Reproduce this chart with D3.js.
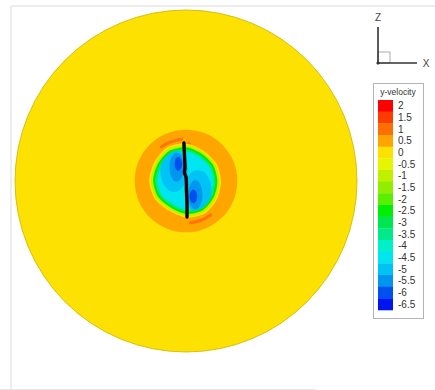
<!DOCTYPE html>
<html lang="en">
<head>
<meta charset="UTF-8">
<title>y-velocity contour</title>
<style>
  body { margin: 0; background: #fff; }
  svg { display: block; font-family: "Liberation Sans", Arial, sans-serif; }
</style>
</head>
<body>
<svg id="chart"></svg>
<script src="https://d3js.org/d3.v7.min.js"></script>
<script>
// contour levels of the legend and their colours
var levels = [2, 1.5, 1, 0.5, 0, -0.5, -1, -1.5, -2, -2.5, -3, -3.5, -4, -4.5, -5, -5.5, -6, -6.5]
var levelColors = ['#ff0000', '#ff3c00', '#ff6e00', '#ffa500', '#fde100', '#e6f500', '#bef000', '#90ee00',
    '#5aee00', '#00ee00', '#00e650', '#00ea8c', '#00f0c8', '#00e6f0', '#00c3f5', '#0096f0', '#0050f0', '#0014f0']

// field, in model units (disc radius = 100)
var discRadius = 100, discValue = 0
var ringRadius = 30, ringValue = 0.5
// outline of the inner vortex region, radius every 30 degrees (from +x, counter-clockwise)
var coreAngles = [0, 30, 60, 90, 120, 150, 180, 210, 240, 270, 300, 330]
var coreRadii = [20.5, 20.5, 20.5, 22, 22.5, 21.5, 21.5, 21, 20, 21.5, 22, 21]
// bands inside the core: value and relative size
var coreValues = [0, -1, -2.5, -3.5, -4.5]
var coreScales = [1, 0.955, 0.895, 0.835, 0.775]
// blobs inside the core: [x, z, rx, rz, value]
var blobs = [
    [-7, 6, 8, 12.5, -5], [7, -6, 8, 12.5, -5],
    [-5.5, 8, 4.2, 8.5, -5.5], [5.5, -8, 4.2, 8.5, -5.5],
    [-4.5, 10, 2.2, 4, -6], [4.3, -9, 2.2, 4, -6]
]
// thin high-velocity arcs on the ring: [start, end angle, inner r, outer r, value]
var arcs = [[94, 128, 23.6, 25.5, 1], [274, 308, 23.6, 25.5, 1]]
var spots = [[1.5, 20.8, 1.4, 1.8, 1], [-3.5, -19, 1.2, 1.8, 1]]
// crack line
var crack = [[-1.2, 22.2], [-0.9, 15.2], [-0.6, 7.6], [-0.9, 4.8], [0, 2.3], [0.3, -5.3], [0.6, -14], [0.6, -21.1]]

var W = 435, H = 390
var svg = d3.select('#chart').attr('width', W).attr('height', H)

var color = d3.scaleOrdinal().domain(levels).range(levelColors)
var x = d3.scaleLinear().domain([-discRadius, discRadius]).range([15, 357])
var z = d3.scaleLinear().domain([-discRadius, discRadius]).range([352, 10])
var len = function (v) { return x(v) - x(0) }

// frame
svg.append('path').attr('d', 'M11,390V6H435').attr('fill', 'none').attr('stroke', '#dcdcdc')
svg.append('line').attr('x1', 0).attr('x2', 316).attr('y1', 389.5).attr('y2', 389.5).attr('stroke', '#e8e8e8')

var g = svg.append('g')

g.append('circle').attr('cx', x(0)).attr('cy', z(0)).attr('r', len(discRadius))
    .attr('fill', color(discValue)).attr('stroke', '#c9b400').attr('stroke-width', 0.8)
g.append('circle').attr('cx', x(0)).attr('cy', z(0)).attr('r', len(ringRadius))
    .attr('fill', color(ringValue))

var arcGen = d3.arc().cornerRadius(1.5)
g.selectAll('.arc').data(arcs).enter().append('path')
    .attr('transform', 'translate(' + x(0) + ',' + z(0) + ')')
    .attr('d', function (d) {
        return arcGen({
            startAngle: (90 - d[1]) * Math.PI / 180, endAngle: (90 - d[0]) * Math.PI / 180,
            innerRadius: len(d[2]), outerRadius: len(d[3])
        })
    })
    .attr('fill', function (d) { return color(d[4]) })
    .attr('opacity', 0.9)

g.selectAll('.spot').data(spots).enter().append('ellipse')
    .attr('cx', function (d) { return x(d[0]) }).attr('cy', function (d) { return z(d[1]) })
    .attr('rx', function (d) { return len(d[2]) }).attr('ry', function (d) { return len(d[3]) })
    .attr('fill', function (d) { return color(d[4]) })

var shape = d3.line().curve(d3.curveCardinalClosed.tension(0.2))
function corePoints(s) {
    return coreAngles.map(function (a, i) {
        var t = a * Math.PI / 180
        return [x(coreRadii[i] * s * Math.cos(t)), z(coreRadii[i] * s * Math.sin(t))]
    })
}

g.selectAll('.band').data(coreValues).enter().append('path')
    .attr('d', function (d, i) { return shape(corePoints(coreScales[i])) })
    .attr('fill', function (d) { return color(d) })

svg.append('clipPath').attr('id', 'core')
    .append('path').attr('d', shape(corePoints(coreScales[3])))

g.append('g').attr('clip-path', 'url(#core)')
    .selectAll('ellipse').data(blobs).enter().append('ellipse')
    .attr('cx', function (d) { return x(d[0]) }).attr('cy', function (d) { return z(d[1]) })
    .attr('rx', function (d) { return len(d[2]) }).attr('ry', function (d) { return len(d[3]) })
    .attr('fill', function (d) { return color(d[4]) })

g.append('path')
    .attr('d', d3.line().curve(d3.curveCatmullRom)(crack.map(function (p) { return [x(p[0]), z(p[1])] })))
    .attr('fill', 'none').attr('stroke', '#000').attr('stroke-width', 3.4).attr('stroke-linecap', 'round')

// axis triad
var tri = svg.append('g').attr('transform', 'translate(378,63)')
tri.append('rect').attr('x', 0).attr('y', -11).attr('width', 12).attr('height', 11)
    .attr('fill', 'none').attr('stroke', '#999').attr('stroke-width', 0.8)
tri.append('line').attr('x1', 0).attr('y1', 0).attr('x2', 0).attr('y2', -36).attr('stroke', '#333').attr('stroke-width', 1.6)
tri.append('line').attr('x1', 0).attr('y1', 0).attr('x2', 39).attr('y2', 0).attr('stroke', '#333').attr('stroke-width', 1.6)
tri.append('circle').attr('r', 1.6).attr('fill', '#333')
tri.append('text').attr('x', 0).attr('y', -42).attr('text-anchor', 'middle')
    .attr('font-size', 10).attr('fill', '#444').text('Z')
tri.append('text').attr('x', 48).attr('y', 3.5).attr('text-anchor', 'middle')
    .attr('font-size', 10).attr('fill', '#444').text('X')

// legend
var leg = svg.append('g').attr('transform', 'translate(373,83)')
leg.append('rect').attr('x', 0.5).attr('y', 0.5).attr('width', 50).attr('height', 235)
    .attr('fill', '#fff').attr('stroke', '#b4b4b4')
leg.append('text').attr('x', 25).attr('y', 12).attr('text-anchor', 'middle')
    .attr('font-size', 8.5).attr('fill', '#333').text('y-velocity')

var band = d3.scaleBand().domain(levels).range([17, 227])
leg.selectAll('.cb').data(levels).enter().append('rect')
    .attr('x', 5).attr('y', function (d) { return band(d) })
    .attr('width', 15).attr('height', band.bandwidth() + 0.3)
    .attr('fill', function (d) { return color(d) })
leg.selectAll('.lb').data(levels).enter().append('text')
    .attr('x', 25).attr('y', function (d) { return band(d) + band.bandwidth() / 2 + 3.5 })
    .attr('font-size', 10).attr('fill', '#333').text(function (d) { return d })
</script>
</body>
</html>
